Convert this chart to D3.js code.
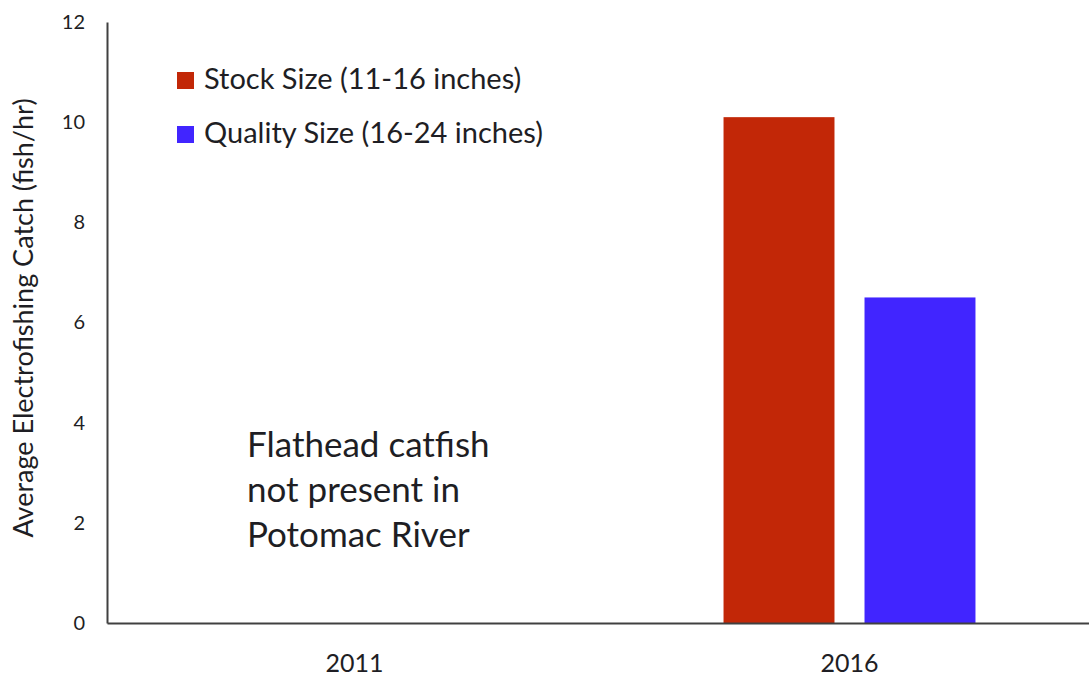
<!DOCTYPE html>
<html>
<head>
<meta charset="utf-8">
<script src="https://cdn.jsdelivr.net/npm/d3@7"></script>
<style>
  body { margin: 0; background: #fff; }
  text { font-family: Lato, "Open Sans", sans-serif; fill: #1e1e24; }
</style>
</head>
<body>
<div id="chartContainer"></div>
<script>
// Chart data
const years = ["2011", "2016"];
const seriesNames = ["Stock Size (11-16 inches)", "Quality Size (16-24 inches)"];
const stockValues = [0, 10.1];
const qualityValues = [0, 6.5];
const yTicks = [0, 2, 4, 6, 8, 10, 12];
const noteLines = ["Flathead catfish", "not present in", "Potomac River"];
const colors = ["#c22707", "#4125ff"];

const width = 1089;
const height = 679;
const margin = { top: 22, right: -8, bottom: 56, left: 107 };

const svg = d3.select("#chartContainer")
  .append("svg")
  .attr("width", width)
  .attr("height", height);

// x scale for the years, inner scale for the two series
const x0 = d3.scaleBand()
  .domain(years)
  .range([margin.left, width - margin.right]);

const x1 = d3.scaleBand()
  .domain(seriesNames)
  .range([0, x0.bandwidth()])
  .paddingInner(0.213)
  .paddingOuter(0.862);

const y = d3.scaleLinear()
  .domain([0, 12])
  .range([height - margin.bottom, margin.top]);

// Build rows from the arrays
const rows = years.map((yr, i) => ({
  year: yr,
  values: [
    { name: seriesNames[0], value: stockValues[i] },
    { name: seriesNames[1], value: qualityValues[i] }
  ]
}));

// Bars
svg.append("g")
  .selectAll("g")
  .data(rows)
  .enter()
  .append("g")
  .attr("transform", d => `translate(${x0(d.year)},0)`)
  .selectAll("rect")
  .data(d => d.values.filter(v => v.value > 0))
  .enter()
  .append("rect")
  .attr("x", d => x1(d.name))
  .attr("y", d => y(d.value))
  .attr("width", x1.bandwidth())
  .attr("height", d => y(0) - y(d.value))
  .attr("fill", d => colors[seriesNames.indexOf(d.name)]);

// Y axis
const yAxis = svg.append("g")
  .attr("transform", `translate(${margin.left},0)`)
  .call(d3.axisLeft(y).tickValues(yTicks).tickSize(0).tickPadding(22));
yAxis.select(".domain").attr("stroke", "#404040").attr("stroke-width", 2);
yAxis.selectAll("text").style("font-size", "20px").attr("font-family", null);

// X axis
const xAxis = svg.append("g")
  .attr("transform", `translate(0,${y(0)})`)
  .call(d3.axisBottom(x0).tickSize(0).tickPadding(31));
xAxis.select(".domain").attr("stroke", "#404040").attr("stroke-width", 2);
xAxis.selectAll("text").style("font-size", "25px").attr("font-family", null);

// Y axis title
svg.append("text")
  .attr("transform", `translate(33,318) rotate(-90)`)
  .attr("text-anchor", "middle")
  .style("font-size", "27px")
  .text("Average Electrofishing Catch (fish/hr)");

// Legend
const legend = svg.append("g")
  .selectAll("g")
  .data(seriesNames)
  .enter()
  .append("g")
  .attr("transform", (d, i) => `translate(177,${72 + i * 54})`);

legend.append("rect")
  .attr("width", 17)
  .attr("height", 17)
  .attr("fill", (d, i) => colors[i]);

legend.append("text")
  .attr("x", 27)
  .attr("y", 17)
  .style("font-size", "29px")
  .text(d => d);

// Note for 2011
svg.append("g")
  .selectAll("text")
  .data(noteLines)
  .enter()
  .append("text")
  .attr("x", 247)
  .attr("y", (d, i) => 457 + i * 45)
  .style("font-size", "35px")
  .text(d => d);
</script>
</body>
</html>
